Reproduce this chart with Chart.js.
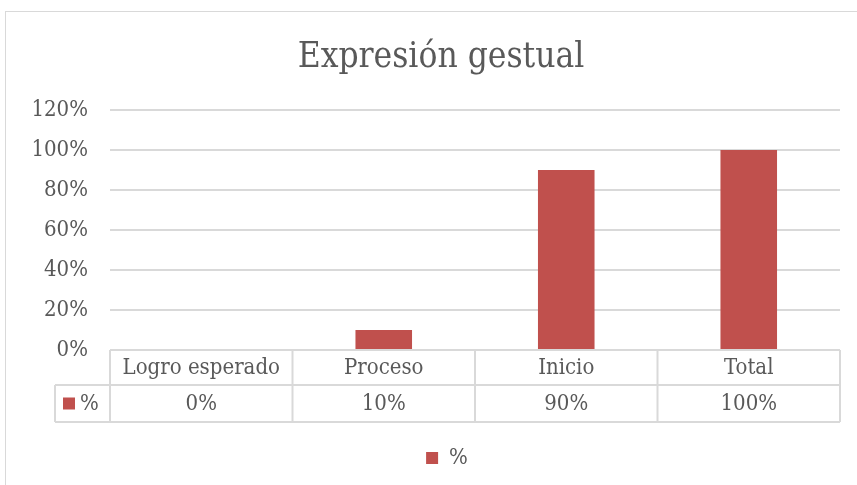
<!DOCTYPE html>
<html>
<head>
<meta charset="utf-8">
<script src="https://cdn.jsdelivr.net/npm/chart.js@4/dist/chart.umd.min.js"></script>
<style>
  body { margin: 0; background: #fff; overflow: hidden; }
  #marco { position: absolute; left: 5px; top: 11px; width: 900px; height: 600px; border: 1px solid #d9d9d9; }
  #lienzo { position: absolute; left: 0; top: 0; }
</style>
</head>
<body>
<div id="marco"></div>
<canvas id="lienzo" width="857" height="485"></canvas>
<script>
const categorias = ['Logro esperado', 'Proceso', 'Inicio', 'Total']
const porcentajes = [0, 0.10, 0.90, 1.00]
const etiquetasTabla = ['0%', '10%', '90%', '100%']
const nombreSerie = '%'

const fuente = "'DejaVu Serif Condensed', 'Liberation Serif', serif"
const gris = '#595959'
const linea = '#d9d9d9'
const rojo = '#c0504d'

// tabla de datos debajo del eje, como en Excel
const tablaDatos = {
	id: 'tablaDatos',
	afterLayout(chart) {
		// en Excel el titulo y la leyenda quedan centrados en todo el marco
		chart.titleBlock.left += 20; chart.titleBlock.right += 20
		chart.legend.left += 26; chart.legend.right += 26
	},
	afterDraw(chart) {
		const ctx = chart.ctx
		const x = chart.scales.x
		const y0 = chart.chartArea.bottom
		const y1 = y0 + 35
		const y2 = y1 + 37
		const izq = 55
		const ancho = (x.right - x.left) / categorias.length
		ctx.save()
		ctx.strokeStyle = linea
		ctx.lineWidth = 2
		ctx.beginPath()
		ctx.moveTo(x.left, y0); ctx.lineTo(x.right, y0)
		ctx.moveTo(izq, y1); ctx.lineTo(x.right, y1)
		ctx.moveTo(izq, y2); ctx.lineTo(x.right, y2)
		ctx.moveTo(izq, y1); ctx.lineTo(izq, y2)
		for (let i = 0; i <= categorias.length; i++) {
			ctx.moveTo(x.left + i * ancho, y0)
			ctx.lineTo(x.left + i * ancho, y2)
		}
		ctx.stroke()

		ctx.fillStyle = gris
		ctx.font = '22px ' + fuente
		ctx.textAlign = 'center'
		ctx.textBaseline = 'middle'
		for (let i = 0; i < categorias.length; i++) {
			const cx = x.left + (i + 0.5) * ancho
			ctx.fillText(categorias[i], cx, (y0 + y1) / 2 + 1)
			ctx.fillText(etiquetasTabla[i], cx, (y1 + y2) / 2 + 1)
		}
		// clave de la serie
		ctx.fillStyle = rojo
		ctx.fillRect(63, (y1 + y2) / 2 - 6, 12, 12)
		ctx.fillStyle = gris
		ctx.textAlign = 'left'
		ctx.fillText(nombreSerie, 80, (y1 + y2) / 2 + 1)
		ctx.restore()
	}
}

new Chart(document.getElementById('lienzo'), {
	type: 'bar',
	data: {
		labels: categorias,
		datasets: [{
			label: nombreSerie,
			data: porcentajes,
			backgroundColor: rojo,
			categoryPercentage: 1,
			barPercentage: 0.31
		}]
	},
	options: {
		responsive: false,
		animation: false,
		layout: { padding: { left: 2, right: 17, top: 0, bottom: 6 } },
		plugins: {
			title: {
				display: true,
				text: 'Expresión gestual',
				color: gris,
				font: { family: fuente, size: 35, weight: 'normal' },
				padding: { top: 37, bottom: 31 }
			},
			legend: {
				position: 'bottom',
				labels: {
					color: gris,
					font: { family: fuente, size: 22 },
					boxWidth: 12,
					boxHeight: 12,
					padding: 10
				}
			},
			tooltip: { enabled: false }
		},
		scales: {
			x: {
				ticks: { display: false },
				grid: { display: false },
				border: { display: false },
				afterFit: (s) => { s.height = 87 }
			},
			y: {
				min: 0,
				max: 1.2,
				ticks: {
					stepSize: 0.2,
					color: gris,
					padding: 22,
					font: { family: fuente, size: 22 },
					callback: (v) => Math.round(v * 100) + '%'
				},
				grid: { color: linea, lineWidth: 2, drawTicks: false },
				border: { display: false },
				afterFit: (s) => { s.width = 108 }
			}
		}
	},
	plugins: [tablaDatos]
});
</script>
</body>
</html>
